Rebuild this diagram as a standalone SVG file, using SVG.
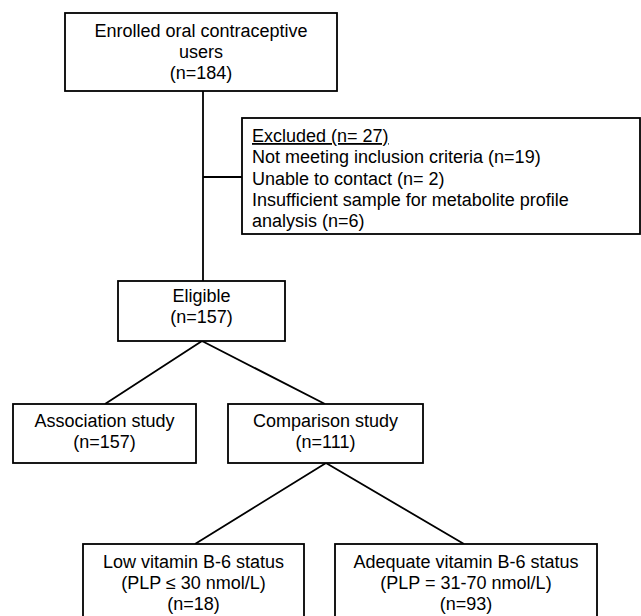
<svg xmlns="http://www.w3.org/2000/svg" width="641" height="616" viewBox="0 0 641 616">
<style>
.box{fill:#fff;stroke:#000;stroke-width:1.8}
.ln{fill:none;stroke:#000;stroke-width:1.8}
text{font-family:"Liberation Sans",Arial,sans-serif;font-size:18px;fill:#000}
.c{text-anchor:middle}
</style>
<rect width="641" height="616" fill="#fff"/>
<g id="connectors">
<path class="ln" d="M203 91V281M203 177H242"/>
<path class="ln" d="M202 341L105 404M202 341L325 404"/>
<path class="ln" d="M326 463L195 544M326 463L464 544"/>
</g>
<g id="enrolled">
<rect class="box" x="65" y="13" width="272" height="78"/>
<text class="c" x="201" y="37">Enrolled oral contraceptive</text>
<text class="c" x="201" y="58">users</text>
<text class="c" x="201" y="79">(n=184)</text>
</g>
<g id="excluded">
<rect class="box" x="242" y="118" width="398" height="116"/>
<text x="252" y="142" text-decoration="underline">Excluded (n= 27)</text>
<text x="252" y="163">Not meeting inclusion criteria (n=19)</text>
<text x="252" y="185">Unable to contact (n= 2)</text>
<text x="252" y="206">Insufficient sample for metabolite profile</text>
<text x="252" y="227">analysis (n=6)</text>
</g>
<g id="eligible">
<rect class="box" x="118" y="281" width="167" height="60"/>
<text class="c" x="201.5" y="302">Eligible</text>
<text class="c" x="201.5" y="323">(n=157)</text>
</g>
<g id="association">
<rect class="box" x="13" y="404" width="183" height="59"/>
<text class="c" x="104.5" y="427">Association study</text>
<text class="c" x="104.5" y="448">(n=157)</text>
</g>
<g id="comparison">
<rect class="box" x="228" y="404" width="195" height="59"/>
<text class="c" x="325.5" y="427">Comparison study</text>
<text class="c" x="325.5" y="448">(n=111)</text>
</g>
<g id="low">
<rect class="box" x="83" y="544" width="221" height="80"/>
<text class="c" x="193.5" y="568">Low vitamin B-6 status</text>
<text class="c" x="193.5" y="589">(PLP ≤ 30 nmol/L)</text>
<text class="c" x="193.5" y="610">(n=18)</text>
</g>
<g id="adequate">
<rect class="box" x="335" y="544" width="262" height="80"/>
<text class="c" x="466" y="568">Adequate vitamin B-6 status</text>
<text class="c" x="466" y="589">(PLP = 31-70 nmol/L)</text>
<text class="c" x="466" y="610">(n=93)</text>
</g>
</svg>
